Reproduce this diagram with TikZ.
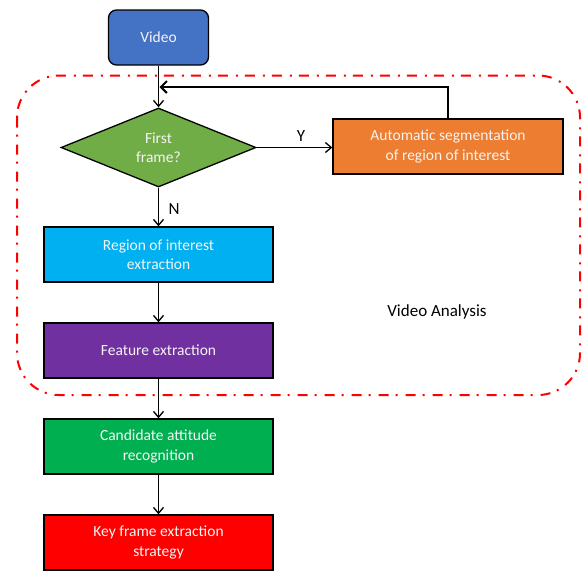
\documentclass[tikz,border=0pt]{standalone}
\usepackage{fontspec}
\setmainfont{Carlito}
\usetikzlibrary{shapes.geometric,arrows.meta}

\definecolor{videoblue}{HTML}{4472C4}
\definecolor{decgreen}{HTML}{70AD47}
\definecolor{segorange}{HTML}{ED7D31}
\definecolor{roicyan}{HTML}{00B0F0}
\definecolor{featpurple}{HTML}{7030A0}
\definecolor{candgreen}{HTML}{00B050}
\definecolor{keyred}{HTML}{FF0000}
\definecolor{labelwhite}{HTML}{F4F4F4}

\tikzset{
  procbox/.style={draw=black, line width=1.3pt, minimum width=229pt, minimum height=55pt,
    inner sep=0pt, align=center, text=labelwhite,
    font=\fontsize{15.5}{19.5}\selectfont},
  decision/.style={draw=black, line width=1.3pt, diamond, minimum width=195pt, minimum height=79pt,
    inner sep=0pt, align=center, text=labelwhite, font=\fontsize{15.5}{19.5}\selectfont},
  flow/.style={line width=1.3pt, -{Straight Barb[length=6pt, width=10pt, line width=1.3pt]}},
  backflow/.style={line width=2.2pt, -{Straight Barb[length=6pt, width=12pt, line width=2pt]}},
  branchlabel/.style={font=\fontsize{17}{20}\selectfont, text=black, inner sep=0pt},
  regionframe/.style={draw=keyred, line width=2pt, rounded corners=42pt,
    dash pattern=on 10pt off 7pt on 2pt off 8pt}
}

\begin{document}
\begin{tikzpicture}[x=1pt, y=-1pt]
  \useasboundingbox (0,0) rectangle (583,571);

  % dashed frame around the analysis stage
  \draw[regionframe] (17,75.5) rectangle (580,395);
  \node[branchlabel] (analysis) at (437,312) {Video Analysis};

  % flow nodes
  \node[procbox, fill=videoblue, minimum width=100pt, rounded corners=8pt] (video) at (158.5,37.5) {Video};
  \node[decision, fill=decgreen] (first) at (158.5,147.5) {First\\frame?};
  \node[procbox, fill=segorange, minimum width=230pt] (seg) at (448,146.5) {Automatic segmentation\\of region of interest};
  \node[procbox, fill=roicyan] (roi) at (158.5,254.5) {Region of interest\\extraction};
  \node[procbox, fill=featpurple] (feat) at (158.5,350.5) {Feature extraction};
  \node[procbox, fill=candgreen] (cand) at (158.5,446.5) {Candidate attitude\\recognition};
  \node[procbox, fill=keyred] (key) at (158.5,542.5) {Key frame extraction\\strategy};

  \coordinate (join) at (159.5,87);

  % connectors
  \draw[flow] (video) -- (first);
  \draw[flow] (first.east) -- (seg.west |- first.east);
  \draw[backflow] (seg.north) |- (join);
  \draw[flow] (first) -- (roi);
  \draw[flow] (roi) -- (feat);
  \draw[flow] (feat) -- (cand);
  \draw[flow] (cand) -- (key);

  % branch labels
  \node[branchlabel] (ylabel) at (301,136) {Y};
  \node[branchlabel] (nlabel) at (174,209) {N};
\end{tikzpicture}
\end{document}
